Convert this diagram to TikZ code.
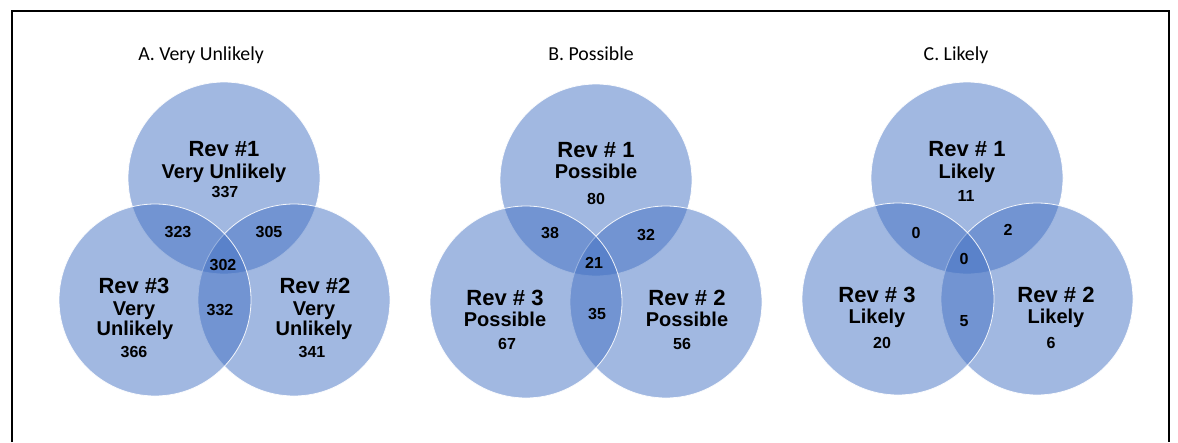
\documentclass[tikz,border=0pt]{standalone}
\usepackage{fontspec}
\setmainfont{Liberation Sans}
\newfontfamily\titlefont{Carlito}
\definecolor{vennblue}{HTML}{4472C4}
\tikzset{
  venn/.style       = { circle, minimum size=192pt, inner sep=0pt, fill=vennblue, fill opacity=0.5, draw=white, draw opacity=0.9, line width=0.8pt },
  revlabel/.style   = { anchor=base, inner sep=0pt, font=\fontsize{22}{22}\selectfont\bfseries },
  catlabel/.style   = { anchor=base, inner sep=0pt, font=\fontsize{20}{20}\selectfont\bfseries },
  count/.style      = { anchor=base, inner sep=0pt, font=\fontsize{16}{16}\selectfont\bfseries },
  paneltitle/.style = { anchor=base, inner sep=0pt, font=\titlefont\fontsize{19.8}{19.8}\selectfont },
}
\begin{document}
\begin{tikzpicture}[x=1pt, y=-1pt]
  \useasboundingbox (0,0) rectangle (1178,442);
  \fill[white] (0,0) rectangle (1178,442);
  \draw[line width=2.8pt] (12,442) -- (12,11) -- (1169,11) -- (1169,442);

  % A. Very Unlikely
  \node (atitle) [paneltitle] at (201,60) {A. Very Unlikely};
  \node (arev1) [venn] at (224,178) {};
  \node (arev2) [venn] at (294,300) {};
  \node (arev3) [venn] at (155,300) {};
  \node (arev1name) [revlabel] at (224,156) {Rev \#1};
  \node (arev1cat)  [catlabel] at (224,178) {Very Unlikely};
  \node (arev1num)  [count]    at (225,197) {337};
  \node (arev3name) [revlabel] at (134,293) {Rev \#3};
  \node (arev3cat)  [catlabel] at (134,315) {Very};
  \node (arev3cat2) [catlabel] at (135,335) {Unlikely};
  \node (arev3num)  [count]    at (134,357) {366};
  \node (arev2name) [revlabel] at (315,293) {Rev \#2};
  \node (arev2cat)  [catlabel] at (314,315) {Very};
  \node (arev2cat2) [catlabel] at (314,335) {Unlikely};
  \node (arev2num)  [count]    at (312,357) {341};
  \node (a13) [count] at (178,237) {323};
  \node (a12) [count] at (269,237) {305};
  \node (a123) [count] at (223,270) {302};
  \node (a23) [count] at (220,315) {332};

  % B. Possible
  \node (btitle) [paneltitle] at (591,60) {B. Possible};
  \node (brev1) [venn] at (596,180) {};
  \node (brev2) [venn] at (666,302) {};
  \node (brev3) [venn] at (526,302) {};
  \node (brev1name) [revlabel] at (596,157) {Rev \# 1};
  \node (brev1cat)  [catlabel] at (596,178) {Possible};
  \node (brev1num)  [count]    at (596,204) {80};
  \node (brev3name) [revlabel] at (505,305) {Rev \# 3};
  \node (brev3cat)  [catlabel] at (505,326) {Possible};
  \node (brev3num)  [count]    at (507,349) {67};
  \node (brev2name) [revlabel] at (687,305) {Rev \# 2};
  \node (brev2cat)  [catlabel] at (687,326) {Possible};
  \node (brev2num)  [count]    at (682,349) {56};
  \node (b13) [count] at (550,238) {38};
  \node (b12) [count] at (646,240) {32};
  \node (b123) [count] at (594,268) {21};
  \node (b23) [count] at (597,319) {35};

  % C. Likely
  \node (ctitle) [paneltitle] at (956,60) {C. Likely};
  \node (crev1) [venn] at (967,178) {};
  \node (crev2) [venn] at (1037,299) {};
  \node (crev3) [venn] at (898,299) {};
  \node (crev1name) [revlabel] at (967,156) {Rev \# 1};
  \node (crev1cat)  [catlabel] at (967,178) {Likely};
  \node (crev1num)  [count]    at (966,201) {11};
  \node (crev3name) [revlabel] at (877,302) {Rev \# 3};
  \node (crev3cat)  [catlabel] at (877,323) {Likely};
  \node (crev3num)  [count]    at (882,348) {20};
  \node (crev2name) [revlabel] at (1056,302) {Rev \# 2};
  \node (crev2cat)  [catlabel] at (1056,323) {Likely};
  \node (crev2num)  [count]    at (1051,348) {6};
  \node (c13) [count] at (916,238) {0};
  \node (c12) [count] at (1008,235) {2};
  \node (c123) [count] at (964,264) {0};
  \node (c23) [count] at (964,326) {5};
\end{tikzpicture}
\end{document}
